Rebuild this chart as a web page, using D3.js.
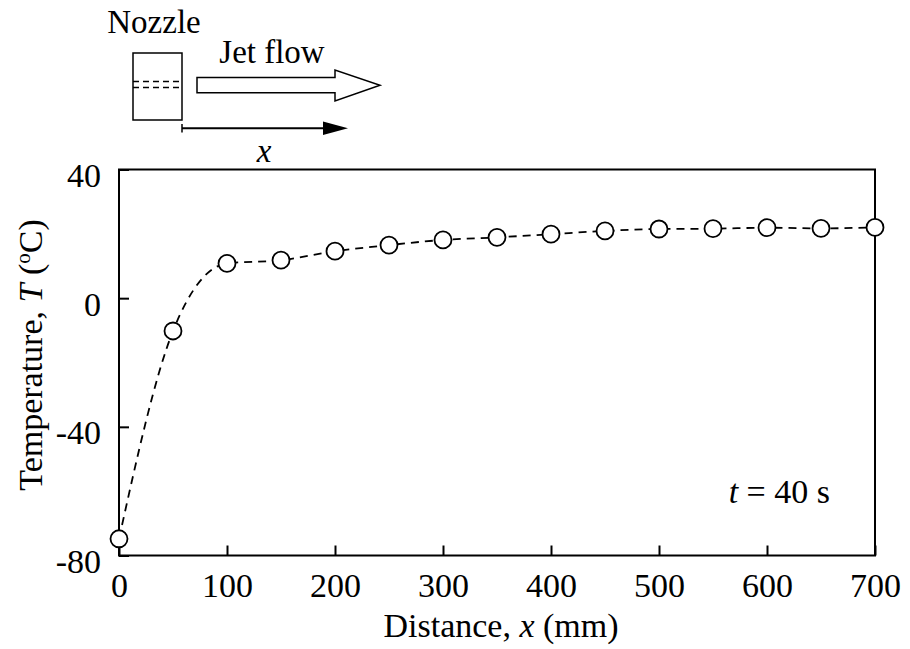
<!DOCTYPE html>
<html>
<head>
<meta charset="utf-8">
<script src="https://cdn.jsdelivr.net/npm/d3@7"></script>
<style>
body { margin: 0; background: #fff; }
svg { display: block; }
text { font-family: "Liberation Serif", "Times New Roman", serif; fill: #000; }
</style>
</head>
<body>
<svg id="chart"></svg>
<script>
// distance from nozzle (mm) and jet temperature (C), t = 40 s
var distance = [0, 50, 100, 150, 200, 250, 300, 350, 400, 450, 500, 550, 600, 650, 700];
var temperature = [-74.8, -10.2, 10.8, 11.8, 14.6, 16.5, 18.1, 18.9, 19.9, 20.9, 21.5, 21.6, 21.9, 21.7, 22.0];
var xTicks = [0, 100, 200, 300, 400, 500, 600, 700];
var yTicks = [-80, -40, 0, 40];

var screen = {width: 910, height: 649}
var margins = {top: 169.5, left: 119, right: 35, bottom: 93.5}
var width = screen.width - margins.left - margins.right;
var height = screen.height - margins.top - margins.bottom;

var svg = d3.select("#chart")
    .attr("width", screen.width)
    .attr("height", screen.height);

var xScale = d3.scaleLinear().domain([0, 700]).range([0, width]);
var yScale = d3.scaleLinear().domain([-80, 40]).range([height, 0]);

var graph = svg.append("g")
    .attr("transform", "translate(" + margins.left + "," + margins.top + ")");

// axes, ticks pointing inward
var xAxis = graph.append("g")
    .attr("transform", "translate(0," + height + ")")
    .call(d3.axisBottom(xScale).tickValues(xTicks).tickSize(-10).tickSizeOuter(0)
        .tickFormat(function(d) { return String(d) }));
xAxis.select(".domain").remove();
xAxis.selectAll("line").attr("stroke-width", 2);
xAxis.selectAll("text")
    .attr("y", 41).attr("dy", 0)
    .style("font-size", "34px")
    .style("font-family", "'Liberation Serif', serif");

var yAxis = graph.append("g")
    .call(d3.axisLeft(yScale).tickValues(yTicks).tickSize(-10).tickSizeOuter(0)
        .tickFormat(function(d) { return String(d) }));
yAxis.select(".domain").remove();
yAxis.selectAll("line").attr("stroke-width", 2);
yAxis.selectAll("text")
    .attr("x", -18).attr("dy", "0.5em")
    .style("font-size", "34px")
    .style("font-family", "'Liberation Serif', serif");

graph.append("rect")
    .attr("width", width).attr("height", height)
    .attr("fill", "none").attr("stroke", "#000").attr("stroke-width", 2);

// dashed trend line
var line = d3.line()
    .x(function(d, i) { return xScale(distance[i]) })
    .y(function(d) { return yScale(d) })
    .curve(d3.curveMonotoneX);

graph.append("path")
    .datum(temperature)
    .attr("d", line)
    .attr("fill", "none")
    .attr("stroke", "#000")
    .attr("stroke-width", 1.8)
    .attr("stroke-dasharray", "8,6");

graph.selectAll(".pt")
    .data(temperature)
    .enter()
    .append("circle")
    .attr("class", "pt")
    .attr("cx", function(d, i) { return xScale(distance[i]) })
    .attr("cy", function(d) { return yScale(d) })
    .attr("r", 8.5)
    .attr("fill", "#fff")
    .attr("stroke", "#000")
    .attr("stroke-width", 1.8);

// axis titles
svg.append("text")
    .attr("x", 501).attr("y", 637)
    .attr("text-anchor", "middle")
    .style("font-size", "34px")
    .html('Distance, <tspan font-style="italic">x</tspan> (mm)');

svg.append("text")
    .attr("transform", "translate(42,355) rotate(-90)")
    .attr("text-anchor", "middle")
    .style("font-size", "34px")
    .html('Temperature, <tspan font-style="italic">T</tspan> (<tspan font-size="21px" dy="-12">o</tspan><tspan dy="12">C)</tspan>');

svg.append("text")
    .attr("x", 830).attr("y", 503)
    .attr("text-anchor", "end")
    .style("font-size", "34px")
    .html('<tspan font-style="italic">t</tspan> = 40 s');

// nozzle sketch
var sketch = svg.append("g").attr("fill", "none").attr("stroke", "#000");
sketch.append("rect")
    .attr("x", 133).attr("y", 53).attr("width", 49).attr("height", 67)
    .attr("stroke-width", 1.5);
[81.5, 87.5].forEach(function(y) {
    sketch.append("line")
        .attr("x1", 133).attr("x2", 182).attr("y1", y).attr("y2", y)
        .attr("stroke-width", 1.5).attr("stroke-dasharray", "6,4");
});
sketch.append("path")
    .attr("d", "M197,77.5 L335,77.5 L335,70 L380,85.3 L335,101 L335,92.7 L197,92.7 Z")
    .attr("stroke-width", 1.5);
sketch.append("line")
    .attr("x1", 182).attr("x2", 182).attr("y1", 124).attr("y2", 132.5)
    .attr("stroke-width", 1.5);
sketch.append("line")
    .attr("x1", 182).attr("x2", 326).attr("y1", 128.3).attr("y2", 128.3)
    .attr("stroke-width", 2);
sketch.append("path")
    .attr("d", "M323,121.5 L348,128.3 L323,135 Z")
    .attr("fill", "#000").attr("stroke", "none");

svg.append("text")
    .attr("x", 154).attr("y", 33)
    .attr("text-anchor", "middle")
    .style("font-size", "33px")
    .text("Nozzle");
svg.append("text")
    .attr("x", 272).attr("y", 63)
    .attr("text-anchor", "middle")
    .style("font-size", "33px")
    .text("Jet flow");
svg.append("text")
    .attr("x", 264).attr("y", 162)
    .attr("text-anchor", "middle")
    .attr("font-style", "italic")
    .style("font-size", "33px")
    .text("x");
</script>
</body>
</html>
